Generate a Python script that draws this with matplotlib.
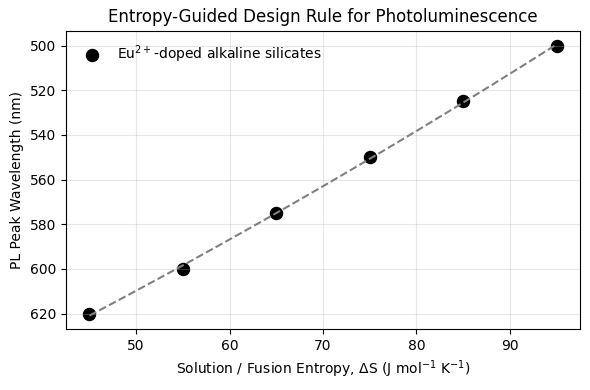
import numpy as np
import matplotlib
matplotlib.use("Agg")
from matplotlib import pyplot as plt

entropy = [45, 55, 65, 75, 85, 95]
wavelength = [620, 600, 575, 550, 525, 500]
label = r"Eu$^{2+}$-doped alkaline silicates"

fig, ax = plt.subplots(figsize=(5.9, 3.9), dpi=100)

ax.scatter(entropy, wavelength, s=75, color="black", label=label)

# quadratic trend through the points
coef = np.polyfit(entropy, wavelength, 2)
xs = np.linspace(min(entropy), max(entropy), 200)
ax.plot(xs, np.polyval(coef, xs), "--", color="gray", linewidth=1.5)

ax.invert_yaxis()
ax.set_xlabel(r"Solution / Fusion Entropy, $\Delta$S (J mol$^{-1}$ K$^{-1}$)")
ax.set_ylabel("PL Peak Wavelength (nm)")
ax.set_title("Entropy-Guided Design Rule for Photoluminescence")
ax.grid(True, alpha=0.3)
ax.legend(loc="upper left", frameon=False)

fig.subplots_adjust(left=0.112, right=0.983, top=0.921, bottom=0.156)
fig.savefig("out.png")
